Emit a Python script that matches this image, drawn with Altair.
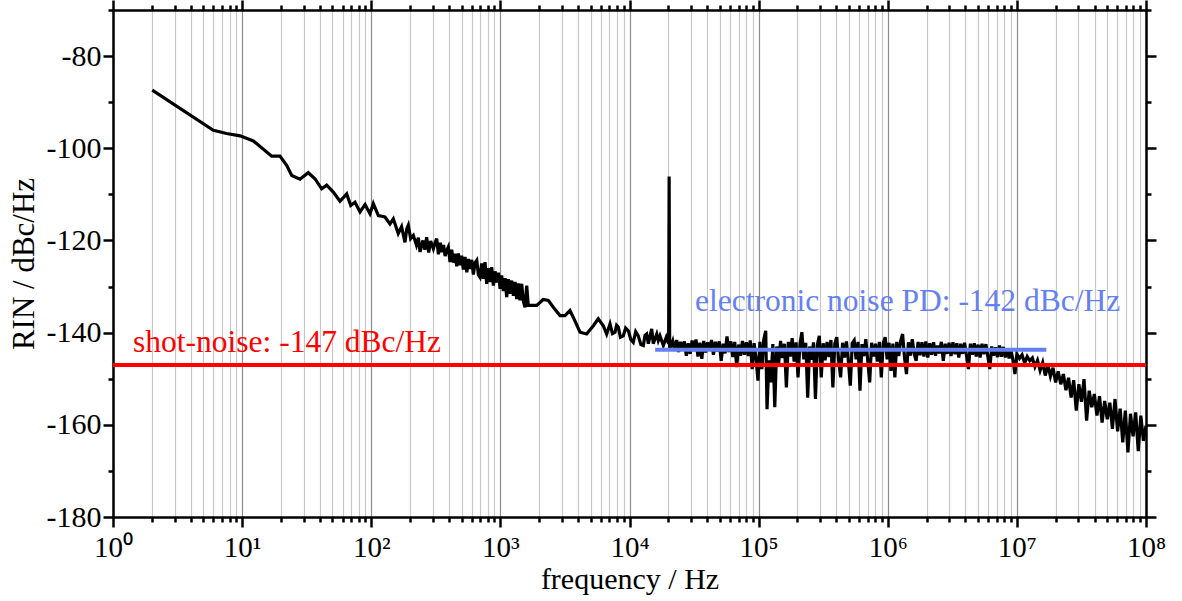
import altair as alt
import pandas as pd

# ---- data -----------------------------------------------------------------
# (log10(frequency / Hz), RIN in dBc/Hz) for the measured trace, in segments
trace_low = [
    (0.304, -87.4), (0.777, -96.1), (0.880, -96.8), (0.984, -97.3), (1.087, -98.4),
    (1.229, -101.7), (1.293, -101.7), (1.345, -103.7), (1.384, -105.9), (1.448, -106.7),
    (1.512, -105.3), (1.564, -106.6), (1.616, -108.8), (1.655, -108.0), (1.706, -109.5),
    (1.758, -111.5), (1.810, -109.9), (1.841, -112.4), (1.874, -111.7), (1.913, -113.8),
    (1.952, -112.2), (1.990, -114.2), (2.016, -112.0), (2.055, -114.6), (2.106, -114.9),
    (2.145, -116.4), (2.171, -115.3), (2.209, -118.5),
]
trace_audio = [
    (2.235, -117.0), (2.261, -120.4), (2.275, -117.5), (2.287, -116.7), (2.305, -119.6),
    (2.326, -118.9), (2.350, -121.0), (2.365, -119.4), (2.378, -122.5), (2.400, -120.0),
    (2.415, -122.0), (2.429, -119.3), (2.445, -122.6), (2.460, -120.1), (2.481, -121.8),
    (2.495, -120.4), (2.507, -119.6), (2.520, -123.0), (2.535, -120.5), (2.546, -122.5),
    (2.560, -121.0), (2.572, -123.4), (2.584, -122.2), (2.597, -121.4), (2.610, -124.7),
    (2.623, -122.0), (2.636, -124.8), (2.649, -122.9), (2.662, -125.6), (2.675, -122.8),
    (2.687, -125.4), (2.700, -123.3), (2.713, -126.3), (2.726, -123.6), (2.740, -126.9),
    (2.752, -124.0), (2.765, -126.2), (2.778, -124.2), (2.791, -127.4), (2.804, -124.8),
    (2.817, -124.3), (2.830, -127.5), (2.842, -128.0), (2.855, -125.0), (2.868, -128.3),
    (2.881, -124.7), (2.894, -129.4), (2.907, -126.0), (2.920, -129.0), (2.933, -125.8),
    (2.946, -129.8), (2.959, -126.7), (2.972, -129.1), (2.985, -127.0), (2.998, -130.5),
    (3.010, -127.6), (3.023, -131.0), (3.036, -128.2), (3.049, -132.3), (3.062, -128.4),
    (3.075, -131.6), (3.088, -128.7), (3.101, -132.0), (3.114, -129.0), (3.126, -132.7),
    (3.139, -129.3), (3.152, -133.0), (3.165, -129.4), (3.178, -133.2), (3.191, -134.5),
    (3.204, -129.8), (3.216, -134.1),
]
trace_mid = [
    (3.281, -134.1), (3.332, -132.8), (3.371, -133.0), (3.410, -134.5), (3.462, -136.3),
    (3.500, -136.3), (3.539, -135.2), (3.565, -136.7), (3.617, -139.9), (3.668, -140.3),
    (3.720, -138.5), (3.758, -137.0), (3.797, -138.5), (3.823, -140.3), (3.849, -138.1),
    (3.868, -140.2), (3.888, -139.9), (3.900, -138.4), (3.913, -138.8), (3.930, -141.0),
    (3.952, -140.7), (3.970, -139.0), (3.991, -139.6), (4.010, -141.5), (4.029, -142.1),
    (4.048, -139.8), (4.068, -140.7), (4.088, -142.6), (4.107, -142.8), (4.120, -140.6),
    (4.133, -140.3), (4.146, -142.4), (4.172, -139.2), (4.184, -142.4), (4.211, -140.3),
    (4.223, -141.7), (4.236, -140.7), (4.262, -142.8), (4.285, -141.0), (4.303, -142.4),
    (4.307, -106.1), (4.311, -143.0),
]
trace_flat = [
    (4.320, -143.0), (4.335, -141.8), (4.350, -143.9), (4.365, -141.6), (4.380, -144.2),
    (4.395, -142.0), (4.410, -143.6), (4.425, -141.9), (4.440, -145.0), (4.455, -142.3),
    (4.470, -144.6), (4.485, -141.7), (4.500, -144.0), (4.515, -141.5), (4.530, -145.2),
    (4.545, -142.2), (4.560, -145.7), (4.575, -141.8), (4.590, -144.3), (4.605, -142.1),
    (4.620, -143.9), (4.635, -141.6), (4.650, -144.8), (4.665, -142.0), (4.680, -144.1),
    (4.695, -141.9), (4.710, -146.1), (4.725, -142.4), (4.740, -144.5), (4.755, -140.8),
    (4.770, -144.2), (4.785, -141.9), (4.800, -145.3), (4.815, -142.0), (4.830, -147.5),
    (4.845, -142.6), (4.860, -145.0), (4.875, -141.8), (4.890, -144.8), (4.905, -142.1),
    (4.920, -145.1), (4.935, -141.7), (4.950, -147.9), (4.965, -142.3), (4.980, -145.6),
    (4.995, -150.4), (5.010, -142.0), (5.025, -147.9), (5.040, -141.5), (5.055, -139.6),
    (5.065, -156.6), (5.080, -146.0), (5.095, -150.8), (5.110, -142.5), (5.125, -156.2),
    (5.140, -143.0), (5.155, -146.8), (5.170, -141.8), (5.185, -145.5), (5.200, -142.4),
    (5.215, -151.9), (5.230, -142.0), (5.245, -145.2), (5.260, -141.2), (5.275, -146.3),
    (5.290, -142.1), (5.305, -149.7), (5.320, -142.5), (5.335, -139.9), (5.350, -145.8),
    (5.365, -142.2), (5.380, -154.1), (5.395, -143.0), (5.410, -145.9), (5.425, -142.1),
    (5.440, -154.4), (5.455, -142.6), (5.470, -140.7), (5.485, -149.7), (5.500, -142.3),
    (5.515, -146.0), (5.530, -142.0), (5.545, -145.3), (5.560, -141.6), (5.575, -151.9),
    (5.590, -142.4), (5.605, -141.0), (5.620, -146.1), (5.635, -149.7), (5.650, -142.2),
    (5.665, -145.4), (5.680, -141.9), (5.695, -146.2), (5.710, -151.5), (5.725, -142.3),
    (5.740, -141.7), (5.755, -145.8), (5.770, -142.0), (5.785, -152.6), (5.800, -142.5),
    (5.815, -145.1), (5.830, -141.4), (5.845, -146.0), (5.860, -150.8), (5.875, -142.2),
    (5.890, -145.2), (5.905, -142.4), (5.920, -146.3), (5.935, -142.0), (5.950, -149.7),
    (5.965, -142.3), (5.980, -141.0), (5.995, -145.8), (6.010, -142.2), (6.025, -148.3),
    (6.040, -142.4), (6.055, -149.7), (6.070, -142.0), (6.085, -145.1), (6.100, -141.8),
    (6.115, -140.3), (6.130, -145.4), (6.145, -149.0), (6.160, -142.1), (6.175, -145.0),
    (6.190, -141.4), (6.205, -144.6), (6.220, -146.1), (6.235, -142.0), (6.250, -144.9),
    (6.265, -142.1), (6.280, -145.2), (6.295, -141.9), (6.310, -145.4), (6.325, -142.3),
    (6.340, -144.8), (6.355, -142.1), (6.370, -145.0), (6.385, -142.8), (6.400, -144.5),
    (6.415, -142.0), (6.430, -146.1), (6.445, -142.4), (6.460, -144.6), (6.475, -142.2),
    (6.490, -145.1), (6.505, -142.1), (6.520, -144.7), (6.535, -142.3), (6.550, -145.4),
    (6.565, -142.4), (6.580, -144.6), (6.595, -142.2), (6.610, -145.0), (6.625, -147.9),
    (6.640, -142.4), (6.655, -144.8), (6.670, -142.3), (6.685, -145.2), (6.700, -142.6),
    (6.715, -145.4), (6.730, -142.4), (6.745, -144.7), (6.760, -142.5), (6.775, -145.1),
    (6.790, -147.9), (6.805, -143.0), (6.820, -145.0), (6.835, -143.2), (6.850, -145.3),
    (6.865, -142.8), (6.880, -145.2), (6.895, -143.1), (6.910, -145.4), (6.925, -143.5),
    (6.940, -145.6), (6.955, -143.9), (6.970, -146.0), (6.985, -149.0), (7.000, -144.6),
]
trace_rolloff = [
    (7.020, -145.6), (7.040, -144.8), (7.060, -146.6), (7.080, -145.2), (7.100, -146.1),
    (7.120, -145.5), (7.140, -147.4), (7.160, -146.0), (7.180, -148.2), (7.200, -146.5),
    (7.220, -149.3), (7.240, -147.0), (7.260, -149.5), (7.280, -147.6), (7.300, -150.8),
    (7.320, -148.4), (7.340, -151.2), (7.360, -149.0), (7.380, -152.5), (7.400, -149.8),
    (7.420, -154.1), (7.440, -150.3), (7.460, -156.9), (7.480, -151.2), (7.500, -155.0),
    (7.520, -150.1), (7.540, -159.1), (7.560, -152.6), (7.580, -156.2), (7.600, -153.3),
    (7.620, -158.0), (7.640, -153.8), (7.660, -159.5), (7.680, -154.8), (7.700, -158.8),
    (7.720, -155.2), (7.740, -160.9), (7.760, -154.4), (7.780, -161.4), (7.800, -156.5),
    (7.820, -163.8), (7.840, -156.9), (7.860, -166.0), (7.880, -157.6), (7.900, -162.5),
    (7.920, -157.3), (7.940, -165.7), (7.960, -158.0), (7.980, -163.5), (8.000, -160.2),
]

shot_noise_level = -147.0
shot_noise_freq = [1.0, 1e8]
pd_noise_level = -143.7
pd_noise_freq = [1.58e4, 1.69e7]

shot_label = "shot-noise: -147 dBc/Hz"
shot_label_pos = (1.43, -144.3)
pd_label = "electronic noise PD: -142 dBc/Hz"
pd_label_pos = (3.22e4, -135.2)

decades = [10 ** k for k in range(9)]
minor_x = [m * 10 ** k for k in range(8) for m in range(2, 10)]
x_ticks = sorted(decades + minor_x)
y_ticks = list(range(-180, -69, 10))

# ---- tables ---------------------------------------------------------------
pairs = trace_low + trace_audio + trace_mid + trace_flat + trace_rolloff
curve = pd.DataFrame({"f": [10 ** p[0] for p in pairs], "rin": [p[1] for p in pairs]})
shot = pd.DataFrame({"f": shot_noise_freq, "rin": [shot_noise_level] * 2})
pdn = pd.DataFrame({"f": pd_noise_freq, "rin": [pd_noise_level] * 2})
labels = pd.DataFrame({
    "f": [shot_label_pos[0], pd_label_pos[0]],
    "rin": [shot_label_pos[1], pd_label_pos[1]],
    "txt": [shot_label, pd_label],
    "col": ["shot", "pd"],
})

FONT = "Liberation Serif"
DEC = "abs(log(datum.value)/LN10 - round(log(datum.value)/LN10)) < 0.001"
SUP = "['\u2070','\u00b9','\u00b2','\u00b3','\u2074','\u2075','\u2076','\u2077','\u2078']"
Y_MAJ = "datum.value % 20 == 0"
BLUE = "#6480f2"
RED = "#ff0000"

xscale = alt.Scale(type="log", domain=[1, 1e8], nice=False)
yscale = alt.Scale(domain=[-180, -70], nice=False, zero=False)

common = dict(
    tickWidth=2.5, tickColor="black", domainColor="black", domainWidth=2.5,
    labelFont=FONT, labelColor="black",
    titleFont=FONT, titleFontWeight="normal", titleColor="black",
    offset=0, labelOverlap=False, labelFlush=False,
)

x_bottom = alt.Axis(
    orient="bottom", values=x_ticks,
    labelExpr=f"{DEC} ? '10' + {SUP}[round(log(datum.value)/LN10)] : ''",
    tickSize={"condition": {"test": DEC, "value": 10}, "value": 5},
    grid=True,
    gridColor={"condition": {"test": DEC, "value": "#8c8c8c"}, "value": "#c8c8c8"},
    gridWidth=1.2, labelFontSize=29, labelPadding=6,
    title="frequency / Hz", titleFontSize=30, titlePadding=2,
    **common,
)
y_left = alt.Axis(
    orient="left", values=y_ticks,
    labelExpr=f"{Y_MAJ} ? '-' + abs(datum.value) : ''",
    tickSize={"condition": {"test": Y_MAJ, "value": 10}, "value": 5},
    grid=False, labelFontSize=30, labelPadding=2,
    title="RIN / dBc/Hz", titleFontSize=31, titlePadding=6,
    **common,
)
x_top = alt.Axis(
    orient="top", values=x_ticks, labels=False, title=None, grid=False,
    tickSize={"condition": {"test": DEC, "value": 10}, "value": 5},
    **common,
)
y_right = alt.Axis(
    orient="right", values=y_ticks, labels=False, title=None, grid=False,
    tickSize={"condition": {"test": Y_MAJ, "value": 10}, "value": 5},
    **common,
)

trace = alt.Chart(curve).mark_line(color="black", strokeWidth=3.2, clip=True).encode(
    x=alt.X("f:Q", scale=xscale, axis=x_bottom),
    y=alt.Y("rin:Q", scale=yscale, axis=y_left),
)
pd_line = alt.Chart(pdn).mark_line(color=BLUE, strokeWidth=4).encode(
    x=alt.X("f:Q", scale=xscale, axis=None),
    y=alt.Y("rin:Q", scale=yscale, axis=None),
)
shot_line = alt.Chart(shot).mark_line(color=RED, strokeWidth=4).encode(
    x=alt.X("f:Q", scale=xscale, axis=x_top),
    y=alt.Y("rin:Q", scale=yscale, axis=y_right),
)
texts = alt.Chart(labels).mark_text(
    font=FONT, fontSize=31.5, align="left", baseline="alphabetic"
).encode(
    x=alt.X("f:Q", scale=xscale, axis=None),
    y=alt.Y("rin:Q", scale=yscale, axis=None),
    text="txt:N",
    color=alt.Color("col:N", scale=alt.Scale(domain=["shot", "pd"], range=[RED, BLUE]), legend=None),
)

chart = (
    alt.layer(trace, pd_line, shot_line, texts)
    .resolve_scale(x="shared", y="shared")
    .resolve_axis(x="independent", y="independent")
    .properties(
        width=1033, height=507,
        autosize=alt.AutoSizeParams(type="none"),
        padding={"left": 113, "top": 10, "right": 36, "bottom": 84},
        background="white",
    )
    .configure_view(stroke=None)
)

chart.save("out.html", embed_options={"renderer": "svg", "actions": False})
